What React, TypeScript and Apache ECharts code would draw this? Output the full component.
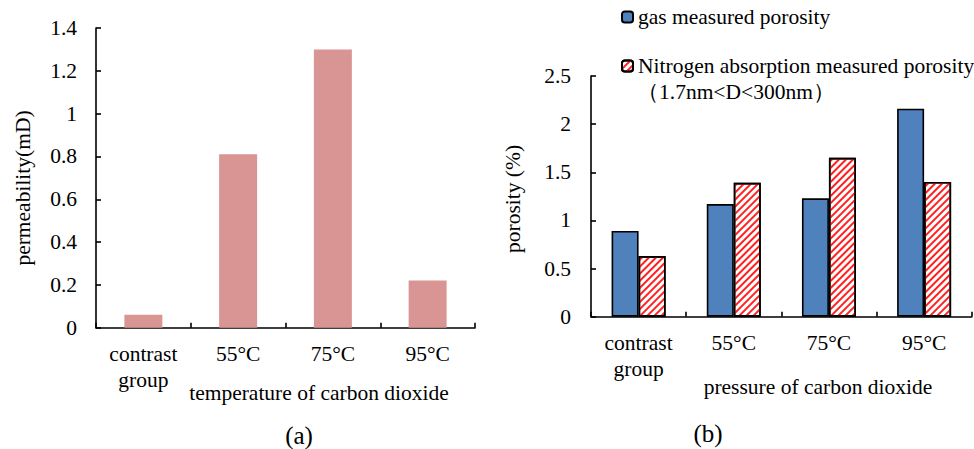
import React, { useEffect, useRef } from "react";
import * as echarts from "echarts";

const categories = ["contrast\ngroup", "55°C", "75°C", "95°C"];
const permeability = [0.06, 0.81, 1.3, 0.22];
const gasPorosity = [0.89, 1.17, 1.23, 2.16];
const nitrogenPorosity = [0.63, 1.39, 1.65, 1.4];
const permTicks = { min: 0, max: 1.4, interval: 0.2 };
const poroTicks = { min: 0, max: 2.5, interval: 0.5 };
const gasName = "gas measured porosity";
const nitroName = "Nitrogen absorption measured porosity";
const nitroRange = "（1.7nm<D<300nm）";

const FONT = "Liberation Serif";
const FS = 21.5;

export default function App() {
  const ref = useRef<HTMLDivElement>(null);
  useEffect(() => {
    if (!ref.current) return;
    const chart = echarts.init(ref.current, null, { renderer: "svg" });
    const axisLine = { show: true, lineStyle: { color: "#000", width: 1.6 } };
    const axisTick = { show: true, inside: true, length: 5, lineStyle: { color: "#000", width: 1.6 } };
    const label = { color: "#000", fontFamily: FONT, fontSize: FS };
    const text = (x: number, y: number, t: string, extra: any = {}) => ({
      type: "text",
      x,
      y,
      rotation: extra.rotation || 0,
      style: {
        text: t,
        fill: "#000",
        fontFamily: FONT,
        fontSize: extra.fs || FS,
        align: extra.align || "center",
        verticalAlign: "middle",
      },
    });
    chart.setOption({
      animation: false,
      backgroundColor: "#fff",
      grid: [
        { left: 96, top: 28, width: 379, height: 299.7 },
        { left: 591, top: 76, width: 380.7, height: 240.7 },
      ],
      legend: {
        orient: "vertical",
        left: 616,
        top: 1,
        itemWidth: 11,
        itemHeight: 11,
        itemGap: 27,
        textStyle: { ...label, lineHeight: 21 },
        data: [gasName, nitroName],
      },
      xAxis: [0, 1].map((i) => ({
        type: "category",
        gridIndex: i,
        data: categories,
        axisLine,
        axisTick: { ...axisTick, alignWithLabel: false },
        axisLabel: { ...label, margin: 13, lineHeight: 26 },
      })),
      yAxis: [
        {
          type: "value",
          gridIndex: 0,
          ...permTicks,
          axisLine,
          axisTick,
          splitLine: { show: false },
          axisLabel: { ...label, margin: 19 },
        },
        {
          type: "value",
          gridIndex: 1,
          ...poroTicks,
          axisLine,
          axisTick,
          splitLine: { show: false },
          axisLabel: { ...label, margin: 20, formatter: (v: number) => String(v) },
        },
      ],
      series: [
        {
          type: "bar",
          name: "permeability",
          xAxisIndex: 0,
          yAxisIndex: 0,
          data: permeability,
          barWidth: 38,
          itemStyle: { color: "#d99594" },
        },
        {
          type: "bar",
          name: gasName,
          xAxisIndex: 1,
          yAxisIndex: 1,
          data: gasPorosity,
          barWidth: 27,
          barGap: "0%",
          itemStyle: { color: "#4f81bd", borderColor: "#000", borderWidth: 1.6 },
        },
        {
          type: "bar",
          name: nitroName,
          xAxisIndex: 1,
          yAxisIndex: 1,
          data: nitrogenPorosity,
          barWidth: 27,
          barGap: "0%",
          itemStyle: {
            color: "#fff",
            borderColor: "#000",
            borderWidth: 1.6,
            decal: {
              symbol: "rect",
              symbolSize: 1,
              dashArrayX: [1, 0],
              dashArrayY: [1.5, 2.5],
              rotation: -Math.PI / 4,
              color: "#ff2020",
            },
          },
        },
      ],
      graphic: [
        text(23, 188, "permeability(mD)", { rotation: Math.PI / 2 }),
        text(319, 393, "temperature of carbon dioxide"),
        text(299, 435, "(a)", { fs: 25 }),
        text(513, 199, "porosity (%)", { rotation: Math.PI / 2 }),
        text(818, 387, "pressure of carbon dioxide"),
        text(708, 433, "(b)", { fs: 25 }),
        text(637, 92, nitroRange, { align: "left" }),
      ],
    });
    return () => chart.dispose();
  }, []);
  return (
    <div
      ref={ref}
      style={{ position: "fixed", left: 0, top: 0, width: 974, height: 449, fontFamily: "Liberation Serif" }}
    />
  );
}
